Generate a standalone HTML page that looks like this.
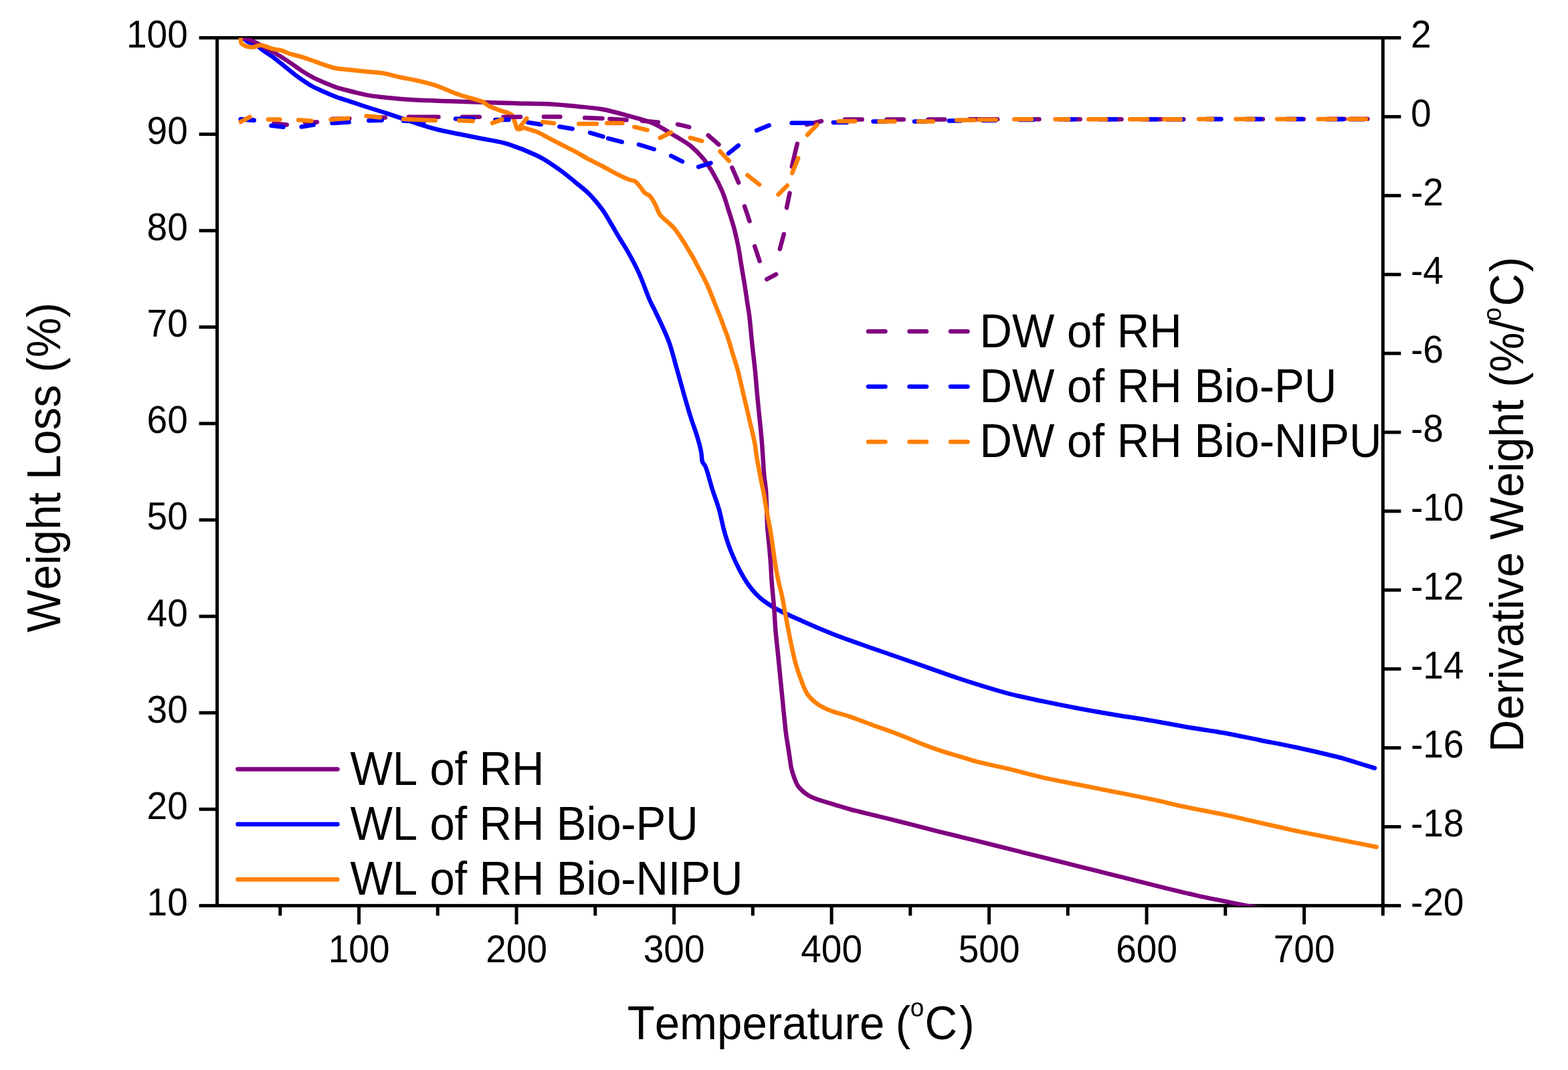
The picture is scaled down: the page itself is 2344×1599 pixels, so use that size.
<!DOCTYPE html>
<html><head><meta charset="utf-8"><title>TGA</title>
<style>
html,body{margin:0;padding:0;background:#fff;}
body{width:2344px;height:1599px;overflow:hidden;}
svg{display:block;}
text{font-family:"Liberation Sans",Arial,sans-serif;fill:#000;font-kerning:none;font-feature-settings:"kern" 0;}
.tk{font-size:55px;}
.tt{font-size:67.2px;}
.sup{font-size:37px;}
</style></head><body>
<svg width="2344" height="1599" viewBox="0 0 2344 1599" xmlns="http://www.w3.org/2000/svg">
<defs><clipPath id="c"><rect x="324.6" y="56.5" width="1742.7" height="1297.5"/></clipPath></defs>

<g stroke="#000" stroke-width="5" fill="none" stroke-linecap="butt">
<rect x="324.6" y="56.5" width="1742.7" height="1296.9"/>
<line x1="418.8" y1="1353.4" x2="418.8" y2="1368.4"/>
<line x1="536.6" y1="1353.4" x2="536.6" y2="1381.4"/>
<line x1="654.3" y1="1353.4" x2="654.3" y2="1368.4"/>
<line x1="772.1" y1="1353.4" x2="772.1" y2="1381.4"/>
<line x1="889.8" y1="1353.4" x2="889.8" y2="1368.4"/>
<line x1="1007.6" y1="1353.4" x2="1007.6" y2="1381.4"/>
<line x1="1125.3" y1="1353.4" x2="1125.3" y2="1368.4"/>
<line x1="1243.1" y1="1353.4" x2="1243.1" y2="1381.4"/>
<line x1="1360.8" y1="1353.4" x2="1360.8" y2="1368.4"/>
<line x1="1478.6" y1="1353.4" x2="1478.6" y2="1381.4"/>
<line x1="1596.3" y1="1353.4" x2="1596.3" y2="1368.4"/>
<line x1="1714.1" y1="1353.4" x2="1714.1" y2="1381.4"/>
<line x1="1831.8" y1="1353.4" x2="1831.8" y2="1368.4"/>
<line x1="1949.6" y1="1353.4" x2="1949.6" y2="1381.4"/>
<line x1="2067.3" y1="1353.4" x2="2067.3" y2="1368.4"/>
<line x1="324.6" y1="1353.4" x2="297.6" y2="1353.4"/>
<line x1="324.6" y1="1209.3" x2="297.6" y2="1209.3"/>
<line x1="324.6" y1="1065.2" x2="297.6" y2="1065.2"/>
<line x1="324.6" y1="921.1" x2="297.6" y2="921.1"/>
<line x1="324.6" y1="777.0" x2="297.6" y2="777.0"/>
<line x1="324.6" y1="632.9" x2="297.6" y2="632.9"/>
<line x1="324.6" y1="488.8" x2="297.6" y2="488.8"/>
<line x1="324.6" y1="344.7" x2="297.6" y2="344.7"/>
<line x1="324.6" y1="200.6" x2="297.6" y2="200.6"/>
<line x1="324.6" y1="56.5" x2="297.6" y2="56.5"/>
<line x1="2067.3" y1="1353.4" x2="2094.3" y2="1353.4"/>
<line x1="2067.3" y1="1235.5" x2="2094.3" y2="1235.5"/>
<line x1="2067.3" y1="1117.6" x2="2094.3" y2="1117.6"/>
<line x1="2067.3" y1="999.7" x2="2094.3" y2="999.7"/>
<line x1="2067.3" y1="881.8" x2="2094.3" y2="881.8"/>
<line x1="2067.3" y1="763.9" x2="2094.3" y2="763.9"/>
<line x1="2067.3" y1="646.0" x2="2094.3" y2="646.0"/>
<line x1="2067.3" y1="528.1" x2="2094.3" y2="528.1"/>
<line x1="2067.3" y1="410.2" x2="2094.3" y2="410.2"/>
<line x1="2067.3" y1="292.3" x2="2094.3" y2="292.3"/>
<line x1="2067.3" y1="174.4" x2="2094.3" y2="174.4"/>
<line x1="2067.3" y1="56.5" x2="2094.3" y2="56.5"/>
</g>
<g clip-path="url(#c)" fill="none" stroke-width="6.5" stroke-linejoin="round" stroke-linecap="round">
<path d="M362.9,57.2 C363.1,57.3 363.8,57.4 364.4,57.8 C365.8,58.6 368.0,61.0 370.4,62.4 C373.5,64.1 377.9,64.7 381.6,66.7 C385.9,69.0 390.2,73.1 394.5,76.1 C398.8,79.1 402.9,81.5 407.5,84.8 C412.9,88.8 419.0,93.9 424.7,98.5 C430.4,103.1 436.1,108.0 441.9,112.3 C447.6,116.5 454.3,121.2 459.1,124.3 C462.4,126.5 464.3,127.7 467.7,129.5 C472.2,131.9 478.4,134.5 484.1,137.0 C490.2,139.7 496.6,142.6 503.0,145.0 C509.2,147.3 515.2,148.9 521.9,151.1 C529.7,153.7 538.6,156.8 547.0,159.5 C555.4,162.2 564.0,164.8 572.4,167.5 C580.8,170.2 589.5,173.1 597.6,175.8 C605.3,178.4 611.7,180.9 620.0,183.5 C630.0,186.7 642.3,190.7 653.6,193.5 C664.7,196.3 675.9,198.2 687.1,200.5 C698.3,202.8 709.5,205.0 720.7,207.2 C731.9,209.4 742.3,210.5 754.2,213.9 C768.4,218.0 788.0,225.7 800.0,231.3 C808.3,235.1 813.6,238.3 820.2,242.4 C827.0,246.7 833.7,251.5 840.4,256.5 C847.2,261.6 853.9,267.2 860.6,272.7 C867.4,278.3 874.3,283.4 880.8,289.9 C887.8,297.0 895.6,306.6 901.0,314.0 C905.2,319.8 907.4,324.1 911.1,330.2 C915.7,337.8 921.4,348.1 926.2,356.0 C930.3,362.8 933.8,367.7 937.9,375.0 C943.2,384.3 949.5,395.8 954.9,407.5 C960.9,420.6 967.4,440.0 971.9,450.0 C974.4,455.6 975.7,457.2 978.4,462.9 C983.6,473.8 994.4,495.7 1000.0,510.8 C1004.7,523.6 1007.2,535.0 1010.7,547.3 C1014.3,560.0 1017.9,573.2 1021.5,585.9 C1025.0,598.2 1028.5,610.6 1032.2,622.4 C1035.7,633.5 1040.1,644.9 1042.9,654.6 C1045.2,662.4 1047.1,669.6 1048.3,676.0 C1049.3,681.1 1048.6,686.3 1050.0,690.0 C1051.0,692.9 1053.0,693.7 1054.5,697.0 C1057.6,703.8 1061.0,718.9 1064.4,729.7 C1067.8,740.5 1072.5,752.7 1075.1,761.9 C1077.0,768.7 1078.1,774.6 1079.4,780.0 C1080.4,784.5 1080.8,787.2 1082.2,792.2 C1084.5,800.4 1088.8,814.2 1092.9,824.4 C1096.8,834.1 1101.3,843.7 1105.8,852.3 C1109.9,860.0 1113.7,867.0 1118.7,873.7 C1123.7,880.5 1129.4,887.3 1135.8,893.0 C1142.3,898.8 1148.7,903.1 1157.3,908.1 C1168.9,914.9 1185.8,922.0 1200.2,928.5 C1214.4,934.9 1228.7,941.0 1243.1,946.7 C1257.3,952.3 1271.2,957.2 1286.0,962.5 C1301.6,968.1 1318.0,973.5 1334.3,979.2 C1351.0,985.0 1368.0,991.0 1384.8,996.9 C1401.6,1002.8 1417.1,1008.5 1435.3,1014.5 C1456.4,1021.4 1482.6,1029.8 1504.3,1035.6 C1523.4,1040.7 1540.4,1044.0 1558.5,1047.9 C1576.6,1051.7 1594.7,1055.3 1612.8,1058.7 C1630.9,1062.1 1648.9,1065.2 1667.0,1068.2 C1685.1,1071.2 1703.2,1073.8 1721.3,1076.9 C1739.4,1080.0 1757.5,1083.6 1775.6,1086.7 C1793.7,1089.8 1811.8,1092.1 1829.8,1095.3 C1847.9,1098.6 1866.0,1102.6 1884.1,1106.2 C1902.2,1109.8 1920.3,1113.1 1938.3,1117.0 C1956.4,1120.9 1979.5,1126.3 1992.6,1129.5 C2000.0,1131.3 2003.7,1132.2 2010.0,1134.0 C2017.8,1136.2 2027.8,1139.6 2035.8,1142.0 C2042.7,1144.1 2051.8,1146.8 2055.0,1147.8" stroke="#0000FF"/>
<path d="M362.9,57.2 C363.7,57.2 365.9,57.0 367.9,57.5 C371.4,58.3 376.8,60.9 381.6,63.2 C387.1,65.8 393.1,69.5 398.8,72.7 C404.6,75.9 410.4,78.8 416.1,82.2 C421.9,85.7 427.6,89.6 433.3,93.4 C439.1,97.3 444.7,101.6 450.5,105.4 C456.2,109.1 461.9,112.6 467.7,115.7 C473.4,118.7 479.1,121.1 484.9,123.5 C490.6,125.9 496.2,128.3 502.1,130.3 C508.2,132.3 515.2,134.0 521.0,135.5 C525.9,136.8 529.8,137.7 534.5,138.8 C539.5,140.0 544.3,141.4 550.0,142.4 C556.8,143.6 564.5,144.4 572.4,145.3 C581.1,146.3 591.2,147.2 600.0,147.9 C608.0,148.6 613.8,149.0 622.9,149.5 C636.4,150.2 656.6,150.7 673.4,151.3 C690.2,151.9 707.0,152.5 723.8,153.0 C740.6,153.5 757.8,154.0 774.3,154.4 C790.3,154.8 806.2,154.7 821.4,155.5 C835.6,156.3 849.2,157.7 862.6,159.0 C875.4,160.3 887.6,161.1 900.0,163.3 C912.7,165.6 925.3,169.2 937.9,172.7 C950.6,176.2 964.2,179.2 975.7,184.1 C986.1,188.6 994.7,194.6 1004.1,200.2 C1013.6,205.9 1024.3,211.5 1032.5,218.1 C1039.8,224.0 1045.7,230.2 1051.4,237.1 C1057.1,244.1 1061.9,251.8 1066.6,259.8 C1071.4,268.1 1076.0,277.2 1079.8,286.3 C1083.6,295.5 1086.4,305.6 1089.3,314.7 C1092.0,323.2 1094.6,330.8 1096.9,339.3 C1099.4,348.4 1101.6,358.2 1103.5,367.7 C1105.4,377.1 1106.6,386.6 1108.2,396.1 C1109.8,405.6 1111.5,415.3 1113.0,424.5 C1114.4,433.2 1115.6,441.8 1116.8,450.0 C1118.0,457.7 1119.1,463.6 1120.2,472.2 C1121.7,484.1 1123.0,501.2 1124.5,515.1 C1125.9,528.3 1127.5,541.0 1128.8,553.7 C1130.0,566.0 1130.9,578.4 1132.0,590.2 C1133.0,601.3 1134.1,611.7 1135.2,622.4 C1136.3,633.1 1137.5,644.5 1138.4,654.6 C1139.2,663.6 1139.7,671.2 1140.3,680.0 C1141.0,689.7 1141.4,701.2 1142.3,710.3 C1143.0,717.7 1144.2,723.8 1144.8,730.5 C1145.4,737.2 1145.6,744.0 1145.9,750.7 C1146.2,757.4 1146.2,764.2 1146.4,770.9 C1146.7,777.6 1146.9,784.4 1147.4,791.1 C1147.9,797.8 1148.7,804.0 1149.4,811.3 C1150.2,820.0 1151.2,830.5 1151.9,840.0 C1152.6,849.2 1152.8,857.2 1153.5,867.3 C1154.4,880.0 1156.3,896.9 1157.3,910.2 C1158.2,921.7 1158.5,931.7 1159.4,942.4 C1160.3,953.1 1161.6,963.9 1162.7,974.6 C1163.8,985.3 1164.8,996.1 1165.9,1006.8 C1167.0,1017.5 1168.0,1028.3 1169.1,1039.0 C1170.2,1049.7 1171.2,1060.8 1172.3,1071.2 C1173.3,1081.1 1174.3,1091.3 1175.5,1100.0 C1176.5,1107.3 1177.8,1113.9 1178.7,1120.0 C1179.5,1125.1 1180.1,1129.3 1180.8,1133.9 C1181.5,1138.5 1181.9,1143.2 1182.9,1147.8 C1184.0,1152.4 1185.5,1157.2 1187.1,1161.6 C1188.7,1165.9 1190.3,1170.5 1192.6,1174.1 C1194.7,1177.4 1197.5,1180.0 1200.2,1182.5 C1202.8,1184.9 1205.6,1186.9 1208.6,1188.7 C1211.8,1190.6 1215.5,1192.2 1219.0,1193.6 C1222.4,1195.0 1225.7,1195.8 1229.4,1197.0 C1233.7,1198.3 1238.7,1199.8 1243.3,1201.2 C1247.9,1202.6 1252.6,1204.0 1257.2,1205.4 C1261.8,1206.8 1266.4,1208.2 1271.0,1209.5 C1275.6,1210.8 1280.3,1211.8 1284.9,1213.0 C1289.5,1214.1 1292.7,1214.9 1298.8,1216.4 C1310.5,1219.3 1333.0,1224.7 1350.0,1229.0 C1366.8,1233.2 1383.9,1237.9 1400.0,1241.9 C1414.9,1245.6 1428.7,1248.8 1443.0,1252.3 C1457.4,1255.8 1471.7,1259.4 1486.1,1263.0 C1500.4,1266.6 1514.8,1270.2 1529.1,1273.8 C1543.4,1277.4 1557.8,1280.9 1572.1,1284.5 C1586.4,1288.1 1600.8,1291.7 1615.1,1295.3 C1629.5,1298.9 1643.8,1302.5 1658.2,1306.1 C1672.5,1309.7 1686.9,1313.2 1701.2,1316.8 C1715.5,1320.4 1729.8,1324.1 1744.2,1327.6 C1758.5,1331.1 1772.9,1334.6 1787.3,1337.8 C1801.6,1341.0 1815.7,1343.8 1830.3,1346.8 C1845.4,1349.9 1863.8,1353.4 1876.6,1356.0 C1885.7,1357.9 1896.1,1360.2 1900.0,1361.0" stroke="#800080"/>
<path d="M359.7,56.8 C359.9,58.2 359.7,63.0 361.0,65.0 C362.1,66.7 364.0,67.5 366.1,68.4 C369.0,69.6 373.4,70.7 377.3,70.6 C381.5,70.5 385.6,67.3 390.2,67.5 C395.6,67.7 402.1,71.8 407.5,73.1 C412.1,74.2 416.2,74.1 420.4,75.3 C424.8,76.5 428.6,78.9 433.3,80.4 C438.6,82.1 444.8,83.1 450.5,84.8 C456.3,86.5 462.0,88.8 467.7,90.8 C473.4,92.8 479.1,94.9 484.9,96.8 C490.6,98.7 496.3,100.8 502.1,102.0 C507.8,103.2 512.9,103.4 519.3,104.1 C527.5,105.0 538.1,106.0 547.2,106.9 C555.8,107.8 564.0,108.0 572.4,109.4 C580.8,110.8 589.2,113.4 597.6,115.2 C606.0,117.0 614.3,118.3 622.9,120.3 C631.9,122.4 640.5,124.3 650.2,127.4 C661.7,131.1 675.0,137.5 687.1,141.7 C698.5,145.6 713.1,148.3 720.7,151.8 C725.1,153.8 726.6,156.1 730.3,158.0 C734.8,160.4 740.4,162.3 745.9,164.5 C751.9,166.8 760.8,167.9 764.7,171.5 C767.7,174.3 768.0,178.4 769.5,182.0 C771.0,185.6 771.7,191.8 773.7,193.0 C774.9,193.7 776.6,192.8 778.0,192.5 C779.4,192.2 780.4,191.1 782.0,191.0 C784.2,190.9 787.0,192.2 790.0,193.0 C793.7,194.1 798.1,195.2 802.6,197.0 C808.1,199.3 814.1,202.9 820.2,206.1 C826.7,209.5 833.6,213.2 840.4,216.7 C847.1,220.1 853.9,223.2 860.6,226.8 C867.4,230.4 874.0,234.8 880.8,238.4 C887.5,242.0 894.3,245.0 901.0,248.5 C907.8,252.0 914.4,256.2 921.2,259.6 C927.8,262.9 936.0,266.8 941.3,268.7 C944.5,269.9 946.9,269.5 949.4,271.0 C952.4,272.8 955.1,276.9 957.5,279.8 C959.8,282.5 961.2,285.8 963.6,288.0 C965.9,290.1 969.2,290.6 971.6,293.0 C974.7,296.1 977.2,301.4 979.7,306.0 C982.3,310.8 983.5,316.7 986.8,321.2 C990.2,325.8 996.1,329.7 999.9,333.3 C1002.9,336.2 1005.0,337.7 1007.9,341.2 C1012.4,346.5 1019.6,357.7 1023.0,363.0 C1024.9,365.9 1025.5,367.2 1027.1,370.0 C1029.5,374.1 1033.3,380.1 1036.2,385.2 C1039.0,390.2 1041.5,395.3 1044.2,400.3 C1046.9,405.4 1049.7,410.4 1052.3,415.5 C1054.8,420.5 1057.2,425.5 1059.4,430.6 C1061.6,435.6 1063.5,440.7 1065.5,445.8 C1067.5,450.8 1069.5,455.9 1071.5,460.9 C1073.5,466.0 1075.7,471.0 1077.6,476.1 C1079.5,481.1 1081.3,486.2 1083.1,491.2 C1085.0,496.3 1086.9,500.9 1088.7,506.4 C1090.8,512.6 1092.5,519.4 1094.7,526.6 C1097.2,535.0 1100.4,543.9 1103.0,553.7 C1106.0,564.9 1108.7,578.0 1111.6,590.2 C1114.5,602.4 1117.4,614.4 1120.2,626.7 C1123.1,639.4 1127.1,655.4 1128.8,665.3 C1129.9,671.3 1129.8,674.2 1130.7,680.0 C1132.0,688.3 1134.4,700.2 1136.3,710.3 C1138.2,720.4 1140.4,730.5 1142.3,740.6 C1144.1,750.7 1145.7,761.8 1147.4,770.9 C1148.8,778.3 1150.2,784.4 1151.4,791.1 C1152.6,797.8 1153.3,804.0 1154.4,811.3 C1155.7,820.0 1157.0,830.7 1158.5,840.0 C1159.9,848.9 1161.4,857.3 1163.2,866.0 C1165.0,874.9 1167.5,883.2 1169.5,893.0 C1171.9,904.7 1174.2,919.4 1176.6,931.7 C1178.7,942.9 1180.8,953.6 1183.0,963.9 C1185.1,973.6 1186.9,982.7 1189.5,991.8 C1192.0,1000.6 1195.0,1009.6 1198.1,1017.5 C1200.8,1024.5 1202.8,1031.1 1206.7,1036.8 C1210.6,1042.5 1215.9,1047.6 1221.7,1051.8 C1227.9,1056.3 1235.8,1059.7 1243.1,1062.6 C1250.1,1065.4 1257.5,1066.7 1264.6,1069.0 C1271.8,1071.3 1278.7,1073.9 1286.0,1076.5 C1293.6,1079.3 1301.2,1082.3 1309.1,1085.2 C1317.3,1088.2 1325.9,1090.9 1334.3,1094.0 C1342.8,1097.2 1351.2,1100.7 1359.6,1104.1 C1368.0,1107.5 1376.4,1111.0 1384.8,1114.2 C1393.2,1117.4 1401.6,1120.4 1410.0,1123.1 C1418.4,1125.8 1426.9,1128.1 1435.3,1130.6 C1443.6,1133.1 1450.5,1135.7 1460.0,1138.2 C1472.6,1141.5 1488.8,1144.5 1504.3,1148.2 C1521.5,1152.3 1540.4,1157.7 1558.5,1161.8 C1576.5,1165.9 1594.7,1169.1 1612.8,1172.7 C1630.9,1176.3 1648.9,1179.9 1667.0,1183.5 C1685.1,1187.1 1703.2,1190.6 1721.3,1194.4 C1739.4,1198.3 1757.5,1202.8 1775.6,1206.6 C1793.7,1210.4 1811.7,1213.6 1829.8,1217.4 C1847.9,1221.2 1866.0,1225.5 1884.1,1229.6 C1902.2,1233.7 1920.2,1237.9 1938.3,1241.8 C1956.4,1245.6 1973.7,1248.9 1992.6,1252.7 C2013.3,1256.8 2046.8,1263.5 2057.7,1265.7" stroke="#FF8000"/>
<path d="M360.3,178.0 L379.7,179.5 M409.4,184.5 L428.8,186.5 M455.8,182.8 L474.0,182.4 M497.1,177.7 L522.4,177.2 M552.6,174.6 L575.9,175.7 M610.9,174.8 L655.5,174.8 M691.0,174.8 L716.8,174.8 M752.5,174.8 L778.2,174.8 M812.9,174.5 L837.5,174.5 M874.2,176.1 L900.5,176.9 M911.4,177.7 L936.6,179.3 M960.0,180.6 L983.9,182.8 M1013.0,185.8 L1030.3,189.9 M1058.7,202.3 L1074.5,216.0 M1094.4,250.5 L1104.1,272.9 M1113.0,308.3 L1120.5,330.5 M1128.2,368.0 L1135.6,390.2 M1146.2,417.3 L1160.2,409.9 M1165.8,372.2 L1171.8,350.0 M1176.0,310.5 L1180.5,288.6 M1183.7,249.0 L1191.8,214.7 M1206.1,186.2 L1228.1,181.0 M1263.0,178.4 L1288.7,178.4 M1325.5,178.4 L1350.8,178.4 M1387.5,178.4 L1412.2,178.4 M1449.0,178.3 L1472.8,178.3 M1466.2,178.3 L1491.2,178.3 M1528.2,178.3 L1553.5,178.3 M1591.2,178.3 L1614.7,178.3 M1652.2,178.3 L1676.5,178.3 M1714.2,178.3 L1736.3,178.3 M1745.2,178.3 L1769.3,178.3 M1802.2,178.0 L1825.3,178.0 M1864.2,178.0 L1887.8,178.0 M1924.2,178.0 L1948.7,178.0 M1985.2,177.8 L2010.0,177.8 M2019.2,177.8 L2044.3,177.8" stroke="#800080"/>
<path d="M359.7,178.3 L379.7,180.0 M405.5,187.7 L423.6,189.7 M450.7,189.5 L468.8,186.6 M496.5,184.0 L521.7,182.5 M551.3,180.2 L570.8,179.8 M603.2,180.6 L633.8,181.9 M681.0,177.5 L707.2,177.5 M740.5,179.0 L760.5,179.0 M789.3,183.0 L808.7,186.0 M836.3,189.2 L855.7,192.5 M882.0,198.4 L901.6,204.1 M909.2,206.8 L929.8,212.2 M955.0,216.0 L977.7,223.0 M1003.2,232.9 L1020.1,241.3 M1044.1,249.4 L1062.5,243.7 M1089.0,229.3 L1103.8,217.4 M1131.1,195.1 L1149.7,187.3 M1183.5,183.7 L1212.8,183.7 M1245.8,183.0 L1265.8,183.0 M1305.5,181.6 L1323.2,181.6 M1367.0,181.6 L1382.8,181.6 M1418.8,180.4 L1435.8,180.4 M1469.2,180.0 L1487.8,180.0 M1524.2,179.0 L1544.2,179.0 M1583.2,178.3 L1606.5,178.3 M1643.2,178.3 L1667.7,178.3 M1706.7,178.3 L1729.5,178.3 M1744.0,178.3 L1767.5,178.3 M1805.0,178.0 L1825.3,178.0 M1861.2,178.0 L1884.7,178.0 M1923.2,178.0 L1947.0,178.0 M1983.5,178.2 L2007.5,178.2 M2018.5,178.2 L2039.3,178.2" stroke="#0000FF"/>
<path d="M359.9,182.1 L373.6,174.7 M401.1,178.4 L418.4,178.4 M446.2,179.3 L465.6,180.7 M494.6,178.7 L520.4,176.8 M547.5,173.2 L568.2,175.4 M603.1,178.1 L650.9,179.9 M686.2,180.1 L706.8,180.9 M736.0,183.9 L750.4,178.6 M775.6,191.5 L787.4,177.0 M811.2,182.3 L828.2,184.2 M865.2,185.0 L891.9,185.0 M907.2,184.0 L930.4,184.0 M948.2,189.7 L967.6,194.3 M986.8,206.0 L1003.1,197.8 M1031.8,205.8 L1049.3,210.6 M1076.4,226.2 L1089.9,240.4 M1117.4,261.8 L1135.1,275.8 M1163.5,290.6 L1176.9,277.2 M1184.2,258.7 L1193.2,236.3 M1207.0,201.6 L1221.5,186.5 M1253.5,181.2 L1278.2,181.2 M1314.5,181.6 L1337.5,181.6 M1373.0,181.6 L1394.8,181.6 M1430.2,179.5 L1456.2,179.5 M1463.3,179.0 L1488.8,179.0 M1516.3,178.2 L1542.2,178.2 M1577.5,178.2 L1597.2,178.2 M1627.3,178.2 L1653.3,178.2 M1689.2,178.2 L1715.2,178.2 M1740.3,178.2 L1765.0,178.2 M1792.0,178.0 L1812.2,178.0 M1847.5,178.0 L1873.5,178.0 M1909.2,178.0 L1935.2,178.0 M1970.5,178.0 L1996.3,178.0 M2016.5,178.0 L2041.8,178.0" stroke="#FF8000"/>
</g>
<text class="tk" transform="translate(536.6,1438.2) scale(1,1.03)" text-anchor="middle">100</text>
<text class="tk" transform="translate(772.1,1438.2) scale(1,1.03)" text-anchor="middle">200</text>
<text class="tk" transform="translate(1007.6,1438.2) scale(1,1.03)" text-anchor="middle">300</text>
<text class="tk" transform="translate(1243.1,1438.2) scale(1,1.03)" text-anchor="middle">400</text>
<text class="tk" transform="translate(1478.6,1438.2) scale(1,1.03)" text-anchor="middle">500</text>
<text class="tk" transform="translate(1714.1,1438.2) scale(1,1.03)" text-anchor="middle">600</text>
<text class="tk" transform="translate(1949.6,1438.2) scale(1,1.03)" text-anchor="middle">700</text>
<text class="tk" transform="translate(280.8,1367.8) scale(1,1.03)" text-anchor="end">10</text>
<text class="tk" transform="translate(280.8,1223.7) scale(1,1.03)" text-anchor="end">20</text>
<text class="tk" transform="translate(280.8,1079.6) scale(1,1.03)" text-anchor="end">30</text>
<text class="tk" transform="translate(280.8,935.5) scale(1,1.03)" text-anchor="end">40</text>
<text class="tk" transform="translate(280.8,791.4) scale(1,1.03)" text-anchor="end">50</text>
<text class="tk" transform="translate(280.8,647.3) scale(1,1.03)" text-anchor="end">60</text>
<text class="tk" transform="translate(280.8,503.2) scale(1,1.03)" text-anchor="end">70</text>
<text class="tk" transform="translate(280.8,359.1) scale(1,1.03)" text-anchor="end">80</text>
<text class="tk" transform="translate(280.8,215.0) scale(1,1.03)" text-anchor="end">90</text>
<text class="tk" transform="translate(280.8,70.9) scale(1,1.03)" text-anchor="end">100</text>
<text class="tk" transform="translate(2108.9,1367.6) scale(1,1.03)">-20</text>
<text class="tk" transform="translate(2108.9,1249.7) scale(1,1.03)">-18</text>
<text class="tk" transform="translate(2108.9,1131.8) scale(1,1.03)">-16</text>
<text class="tk" transform="translate(2108.9,1013.9) scale(1,1.03)">-14</text>
<text class="tk" transform="translate(2108.9,896.0) scale(1,1.03)">-12</text>
<text class="tk" transform="translate(2108.9,778.1) scale(1,1.03)">-10</text>
<text class="tk" transform="translate(2108.9,660.2) scale(1,1.03)">-8</text>
<text class="tk" transform="translate(2108.9,542.3) scale(1,1.03)">-6</text>
<text class="tk" transform="translate(2108.9,424.4) scale(1,1.03)">-4</text>
<text class="tk" transform="translate(2108.9,306.5) scale(1,1.03)">-2</text>
<text class="tk" transform="translate(2108.9,188.6) scale(1,1.03)">0</text>
<text class="tk" transform="translate(2108.9,70.7) scale(1,1.03)">2</text>
<text class="tt" transform="translate(937.7,1552.9) scale(1,1.055)">Temperature <tspan x="401.1">(</tspan><tspan class="sup" x="423.1" y="-31.8">o</tspan><tspan x="444.9" y="0">C</tspan><tspan x="496.6">)</tspan></text>
<text class="tt" transform="translate(90,944.9) rotate(-90) scale(1,1.055)">Weight Loss (%)</text>
<text class="tt" transform="translate(2277.1,1123.9) rotate(-90) scale(1,1.055)">Derivative Weight (%/<tspan class="sup" x="644.0" y="-31.8">o</tspan><tspan x="666.3" y="0">C</tspan><tspan x="717.6">)</tspan></text>
<g stroke-width="6.5" stroke-linecap="round">
<line x1="355.5" y1="1149.5" x2="504.5" y2="1149.5" stroke="#800080"/>
<line x1="355.5" y1="1231.8" x2="504.5" y2="1231.8" stroke="#0000FF"/>
<line x1="355.5" y1="1314.2" x2="504.5" y2="1314.2" stroke="#FF8000"/>
<line x1="1298" y1="495.2" x2="1447" y2="495.2" stroke="#800080" stroke-dasharray="25.5 36"/>
<line x1="1298" y1="577.8" x2="1447" y2="577.8" stroke="#0000FF" stroke-dasharray="25.5 36"/>
<line x1="1298" y1="660.3" x2="1447" y2="660.3" stroke="#FF8000" stroke-dasharray="25.5 36"/>
</g>
<text class="tt" letter-spacing="-0.18" transform="translate(523.5,1173.1) scale(1,1.055)">WL of RH</text>
<text class="tt" letter-spacing="-0.18" transform="translate(523.5,1255.1) scale(1,1.055)">WL of RH Bio-PU</text>
<text class="tt" letter-spacing="-0.18" transform="translate(523.5,1337.1) scale(1,1.055)">WL of RH Bio-NIPU</text>
<text class="tt" transform="translate(1464.5,518.9) scale(1,1.055)">DW of RH</text>
<text class="tt" transform="translate(1464.5,601.0) scale(1,1.055)">DW of RH Bio-PU</text>
<text class="tt" transform="translate(1464.5,683.1) scale(1,1.055)">DW of RH Bio-NIPU</text>
</svg></body></html>
